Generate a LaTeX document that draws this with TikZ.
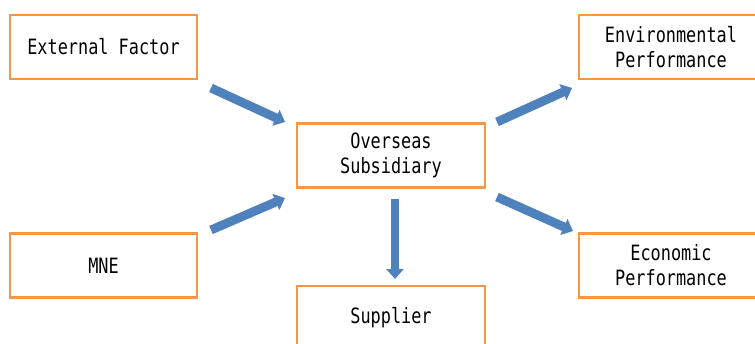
\documentclass[tikz,border=0pt]{standalone}
\usepackage{fontspec}
\usepackage{tikz}
\usetikzlibrary{arrows.meta}
\newfontfamily\boxfont[FakeStretch=0.8]{DejaVu Sans Mono}
\definecolor{boxorange}{HTML}{F79646}
\definecolor{flowblue}{HTML}{4F81BD}
\tikzset{
	box/.style={draw=boxorange, line width=2pt, fill=white, minimum width=187*0.03cm,
		minimum height=64*0.03cm, align=center, inner sep=0pt,
		font=\boxfont\fontsize{18}{21.5}\selectfont},
	flow/.style={draw=flowblue, line width=7.6pt,
		-{Triangle[length=8.5pt, width=14.5pt]}},
}

\begin{document}
\begin{tikzpicture}[x=0.03cm, y=-0.03cm]
			%%%%% START %%%%%
			
			\useasboundingbox (0, 0) rectangle (755, 344);
			
			\node[box] (ext) at (103.5, 47) {External Factor};
			\node[box] (mne) at (103.5, 265.5) {MNE};
			\node[box, minimum width=188*0.03cm] (sub) at (391, 155.5) {Overseas\\Subsidiary};
			\node[box, minimum width=188*0.03cm] (sup) at (391, 318) {Supplier};
			\node[box, minimum width=184*0.03cm] (env) at (671, 47) {Environmental\\Performance};
			\node[box, minimum width=184*0.03cm] (eco) at (671, 265.5) {Economic\\Performance};
			
			% arrow ends
			\coordinate (ext-out) at (211, 88);
			\coordinate (sub-in1) at (285, 122);
			\coordinate (mne-out) at (211, 230);
			\coordinate (sub-in2) at (285, 198);
			\coordinate (sub-down) at (395, 199);
			\coordinate (sup-in) at (395, 279);
			\coordinate (sub-out1) at (497, 122);
			\coordinate (env-in) at (572, 88);
			\coordinate (sub-out2) at (497, 197);
			\coordinate (eco-in) at (573, 231);
			
			\draw[flow] (ext-out) -- (sub-in1);
			\draw[flow] (mne-out) -- (sub-in2);
			\draw[flow] (sub-down) -- (sup-in);
			\draw[flow] (sub-out1) -- (env-in);
			\draw[flow] (sub-out2) -- (eco-in);
			
			%%%%% END %%%%%
\end{tikzpicture}
\end{document}
